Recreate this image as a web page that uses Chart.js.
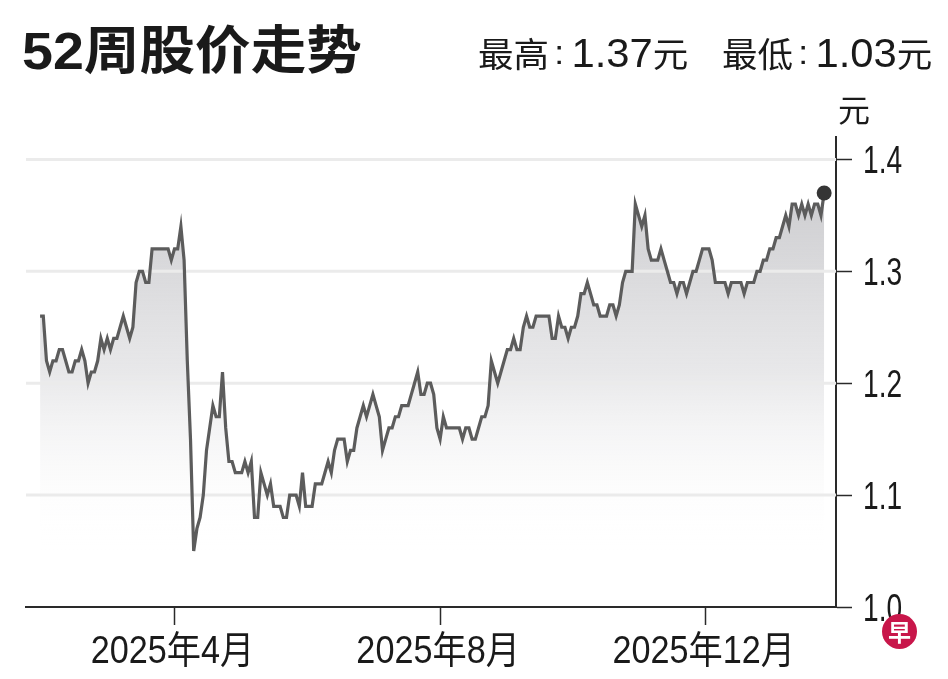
<!DOCTYPE html>
<html>
<head>
<meta charset="utf-8">
<script src="https://cdn.jsdelivr.net/npm/chart.js@4.4.1/dist/chart.umd.min.js"></script>
<style>
  html, body { margin: 0; padding: 0; background: #fff; }
  body { width: 948px; height: 679px; position: relative; overflow: hidden;
         font-family: 'Liberation Sans', 'Noto Sans CJK SC', sans-serif; color: #1a1a1a; }
  #wrap { position: absolute; left: 0; top: 0; width: 948px; height: 679px; }
  .txt { position: absolute; white-space: nowrap; transform-origin: 0 0; line-height: 1; }
  .cjk { font-family: 'Noto Sans CJK SC', sans-serif; font-size: 34px; }
  .num { font-family: 'Liberation Sans', sans-serif; font-size: 40px; }
  .col { font-family: 'Liberation Sans', sans-serif; font-size: 34px; margin: 0 7px 0 5px; position: relative; top: -3px; }
  #title { left: 22px; top: 25px; font-size: 52px; font-weight: bold; }
  #hi { left: 478px; top: 33px; }
  #lo { left: 722px; top: 33px; }
  #unit { left: 838px; top: 92px; font-size: 32px; font-family: 'Noto Sans CJK SC', sans-serif; }
  #logo { position: absolute; left: 882px; top: 614px; width: 35px; height: 35px; border-radius: 50%;
          background: #c8164a; color: #fff; font: bold 23px 'Noto Sans CJK SC', sans-serif;
          text-align: center; line-height: 35px; }
</style>
</head>
<body>
<div id="wrap"><canvas id="chart" width="948" height="679"></canvas></div>
<div class="txt" id="title">52周股价走势</div>
<div class="txt" id="hi"><span class="cjk">最高</span><span class="col">:</span><span class="num">1.37</span><span class="cjk">元</span></div>
<div class="txt" id="lo"><span class="cjk">最低</span><span class="col">:</span><span class="num">1.03</span><span class="cjk">元</span></div>
<div class="txt" id="unit">元</div>
<div id="logo">早</div>
<script>
// --- DATA: daily closing prices (SGD) ---
const prices = [
  1.26,1.26,1.22,1.21,1.22,1.22,1.23,1.23,1.22,1.21,
  1.21,1.22,1.22,1.23,1.22,1.20,1.21,1.21,1.22,1.24,
  1.23,1.24,1.23,1.24,1.24,1.25,1.26,1.25,1.24,1.25,
  1.29,1.30,1.30,1.29,1.29,1.32,1.32,1.32,1.32,1.32,
  1.32,1.31,1.32,1.32,1.34,1.31,1.22,1.15,1.05,
  1.07,1.08,1.10,1.14,1.16,1.18,1.17,1.17,1.21,1.16,
  1.13,1.13,1.12,1.12,1.12,1.13,1.12,1.13,1.08,1.08,
  1.12,1.11,1.10,1.11,1.09,1.09,1.09,1.08,1.08,1.10,
  1.10,1.10,1.09,1.12,1.09,1.09,1.09,1.11,1.11,1.11,
  1.12,1.13,1.12,1.14,1.15,1.15,1.15,1.13,1.14,1.14,
  1.16,1.17,
  1.18,1.17,1.18,1.19,1.18,1.17,1.14,1.15,1.16,1.16,
  1.17,1.17,1.18,1.18,1.18,1.19,1.20,1.21,1.19,1.19,
  1.20,1.20,1.19,1.16,1.15,1.17,1.16,1.16,1.16,1.16,
  1.16,1.15,1.16,1.16,1.15,1.15,1.16,1.17,1.17,1.18,
  1.22,1.21,1.20,1.21,1.22,1.23,1.23,1.24,
  1.23,1.23,1.25,1.26,1.25,1.25,1.26,1.26,1.26,1.26,
  1.26,1.24,1.24,1.26,1.25,1.25,1.24,1.25,1.25,1.26,
  1.28,1.28,1.29,1.28,1.27,1.27,1.26,1.26,1.26,1.27,
  1.27,1.26,1.27,1.29,1.30,1.30,1.30,1.36,1.35,1.34,
  1.35,1.32,1.31,1.31,1.31,1.32,1.31,1.30,1.29,1.29,
  1.28,1.29,1.29,1.28,1.29,1.30,1.30,1.31,1.32,1.32,
  1.32,1.31,1.29,1.29,1.29,1.29,1.28,1.29,1.29,1.29,
  1.29,1.28,1.29,1.29,1.29,1.30,1.30,1.31,1.31,1.32,
  1.32,1.33,1.33,1.34,1.35,1.34,1.36,1.36,1.35,1.36,
  1.35,1.36,1.35,1.36,1.36,1.35,1.37
];
const monthTickIdx = [42, 125, 208];              // first trading day of each labelled month
const monthLabels  = ['2025年4月', '2025年8月', '2025年12月'];
const yTicks       = [1.0, 1.1, 1.2, 1.3, 1.4];

// --- FIT HEADER TEXT WIDTHS ---
function fitWidth(id, w) {
  const el = document.getElementById(id);
  el.style.transform = `scaleX(${w / el.offsetWidth})`;
}
fitWidth('title', 340);
fitWidth('hi', 210);
fitWidth('lo', 210);

const AXIS = '#2a2a2a';
const LABEL_FONT = '38px "Liberation Sans", "Noto Sans CJK SC", sans-serif';

// light grid lines drawn over the fill but under the line
const gridOverFill = {
  id: 'gridOverFill',
  beforeDatasetDraw(chart) {
    const { ctx, chartArea, scales } = chart;
    ctx.save();
    ctx.strokeStyle = '#ebebeb';
    ctx.lineWidth = 3;
    yTicks.slice(1).forEach(v => {
      const py = scales.y.getPixelForValue(v);
      ctx.beginPath();
      ctx.moveTo(chartArea.left, py);
      ctx.lineTo(chartArea.right, py);
      ctx.stroke();
    });
    ctx.restore();
  }
};

// condensed tick labels, placed at the scales' own tick positions
const condensedLabels = {
  id: 'condensedLabels',
  afterDraw(chart) {
    const { ctx, scales: { x, y } } = chart;
    ctx.save();
    ctx.fillStyle = '#1a1a1a';
    ctx.font = LABEL_FONT;
    ctx.textBaseline = 'alphabetic';
    yTicks.forEach(v => {
      ctx.save();
      ctx.translate(y.left + 27, y.getPixelForValue(v) + 14);
      ctx.scale(0.74, 1);
      ctx.textAlign = 'left';
      ctx.fillText(v.toFixed(1), 0, 0);
      ctx.restore();
    });
    monthTickIdx.forEach((v, i) => {
      ctx.save();
      ctx.translate(x.getPixelForValue(v) - 2, x.top + 56);
      ctx.scale(0.9, 1);
      ctx.textAlign = 'center';
      ctx.fillText(monthLabels[i], 0, 0);
      ctx.restore();
    });
    ctx.restore();
  }
};

const last = prices.length - 1;

new Chart(document.getElementById('chart'), {
  type: 'line',
  data: {
    datasets: [{
      data: prices.map((v, i) => ({ x: i, y: v })),
      borderColor: '#5c5c5c',
      borderWidth: 3.2,
      tension: 0,
      fill: 'start',
      backgroundColor: (c) => {
        const area = c.chart.chartArea;
        if (!area) return 'rgba(0,0,0,0)';
        const g = c.chart.ctx.createLinearGradient(0, area.top, 0, area.bottom);
        g.addColorStop(0, 'rgba(180,180,184,0.8)');
        g.addColorStop(0.5, 'rgba(200,200,204,0.42)');
        g.addColorStop(0.88, 'rgba(255,255,255,0)');
        g.addColorStop(1, 'rgba(255,255,255,0)');
        return g;
      },
      pointRadius: (c) => c.dataIndex === last ? 7.5 : 0,
      pointBackgroundColor: '#353535',
      pointBorderWidth: 0,
      pointHoverRadius: 0
    }]
  },
  options: {
    responsive: false,
    animation: false,
    layout: { padding: { left: 26, top: 137, right: 96, bottom: 54 } },
    plugins: { legend: { display: false }, tooltip: { enabled: false } },
    scales: {
      x: {
        type: 'linear',
        min: -4.4,
        max: 248.7,
        afterBuildTicks: (s) => { s.ticks = monthTickIdx.map(v => ({ value: v })); },
        grid: { drawOnChartArea: false, tickLength: 18, tickColor: AXIS, tickWidth: 1.5 },
        border: { color: AXIS, width: 2 },
        ticks: { display: false }
      },
      y: {
        position: 'right',
        min: 1.0,
        max: 1.42,
        afterBuildTicks: (s) => { s.ticks = yTicks.map(v => ({ value: v })); },
        grid: { drawOnChartArea: false, tickLength: 16, tickColor: AXIS, tickWidth: 1.5 },
        border: { color: AXIS, width: 2 },
        ticks: { display: false }
      }
    }
  },
  plugins: [gridOverFill, condensedLabels]
});
</script>
</body>
</html>
